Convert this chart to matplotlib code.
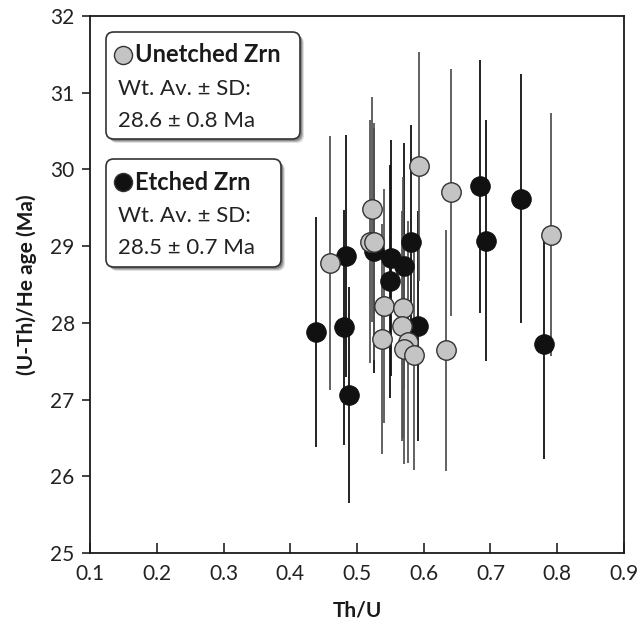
import matplotlib
matplotlib.use("Agg")
import matplotlib.pyplot as plt
from matplotlib.patches import FancyBboxPatch
from matplotlib.lines import Line2D

plt.rcParams['font.family'] = ['Lato', 'DejaVu Sans']

# data
unetched_thu = [0.460, 0.519, 0.526, 0.523, 0.540, 0.569, 0.568, 0.538, 0.577, 0.571, 0.586, 0.593, 0.641, 0.633, 0.790]
unetched_age = [28.78, 29.06, 29.06, 29.48, 28.22, 28.20, 27.96, 27.79, 27.75, 27.66, 27.58, 30.04, 29.70, 27.64, 29.15]
unetched_err = [1.65, 1.58, 1.55, 1.47, 1.52, 1.70, 1.50, 1.50, 1.58, 1.50, 1.50, 1.49, 1.61, 1.57, 1.58]

etched_thu = [0.439, 0.481, 0.484, 0.488, 0.526, 0.551, 0.550, 0.571, 0.581, 0.591, 0.685, 0.693, 0.745, 0.780]
etched_age = [27.88, 27.94, 28.87, 27.06, 28.94, 28.85, 28.54, 28.74, 29.05, 27.96, 29.78, 29.07, 29.62, 27.72]
etched_err = [1.50, 1.53, 1.58, 1.41, 1.60, 1.54, 1.52, 1.60, 1.53, 1.50, 1.65, 1.57, 1.62, 1.50]

x_ticks = [0.1, 0.2, 0.3, 0.4, 0.5, 0.6, 0.7, 0.8, 0.9]
y_ticks = [25, 26, 27, 28, 29, 30, 31, 32]

W, H = 642, 634
fig = plt.figure(figsize=(W / 100, H / 100), dpi=100)
ax = fig.add_axes([90 / W, 1 - 553 / H, 534 / W, 537 / H])

gray = '#c4c4c4'

# error bars first, then markers on top
ax.errorbar(etched_thu, etched_age, yerr=etched_err, fmt='none', ecolor='#111111', elinewidth=1.3, capsize=0, zorder=1)
ax.errorbar(unetched_thu, unetched_age, yerr=unetched_err, fmt='none', ecolor='#555555', elinewidth=1.3, capsize=0, zorder=1)
ax.plot(etched_thu, etched_age, 'o', ms=14, mfc='#111111', mec='#111111', mew=0.8, zorder=3)
ax.plot(unetched_thu, unetched_age, 'o', ms=14, mfc=gray, mec='#333333', mew=1.0, zorder=4)

ax.set_xlim(0.1, 0.9)
ax.set_ylim(25, 32)
ax.set_xticks(x_ticks)
ax.set_yticks(y_ticks)
ax.set_xticklabels([f'{t:.1f}' for t in x_ticks])
ax.tick_params(axis='x', direction='in', length=7, width=1.2, labelsize=15, pad=8, colors='#222222')
ax.tick_params(axis='y', direction='out', length=6, width=1.2, labelsize=15, pad=5, colors='#222222')
for s in ax.spines.values():
    s.set_linewidth(1.3)
    s.set_color('#1a1a1a')

ax.set_xlabel('Th/U', fontsize=15, fontweight='bold', labelpad=12, color='#1a1a1a')
ax.set_ylabel('(U-Th)/He age (Ma)', fontsize=15, fontweight='bold', labelpad=10, color='#1a1a1a')


def px(x, y):
    return x / W, 1 - y / H


def legend_box(x0, y0, x1, y1, lines, face):
    for dx, dy, a in [(4, 4, 0.12), (3, 3, 0.18), (2, 2, 0.25)]:
        sh = FancyBboxPatch(px(x0 + dx, y1 + dy), (x1 - x0) / W, (y1 - y0) / H,
                            boxstyle='round,pad=0,rounding_size=0.012', transform=fig.transFigure,
                            fc='#000000', ec='none', alpha=a, zorder=5)
        fig.add_artist(sh)
    box = FancyBboxPatch(px(x0, y1), (x1 - x0) / W, (y1 - y0) / H,
                         boxstyle='round,pad=0,rounding_size=0.012', transform=fig.transFigure,
                         fc='white', ec='#333333', lw=1.2, zorder=6)
    fig.add_artist(box)
    ty = [y0 + 23, y0 + 57, y0 + 89]
    mk = Line2D([(x0 + 17) / W], [1 - ty[0] / H], marker='o', ms=13, mfc=face,
                mec='#333333', mew=1.0, transform=fig.transFigure, zorder=7)
    fig.add_artist(mk)
    fig.text((x0 + 29) / W, 1 - ty[0] / H, lines[0], fontsize=17, fontweight='bold',
             va='center', ha='left', color='#1a1a1a', zorder=7)
    fig.text((x0 + 12) / W, 1 - ty[1] / H, lines[1], fontsize=16,
             va='center', ha='left', color='#222222', zorder=7)
    fig.text((x0 + 12) / W, 1 - ty[2] / H, lines[2], fontsize=16,
             va='center', ha='left', color='#222222', zorder=7)


legend_box(106, 32, 300, 139, ['Unetched Zrn', 'Wt. Av. ± SD:', '28.6 ± 0.8 Ma'], gray)
legend_box(106, 159, 281, 267, ['Etched Zrn', 'Wt. Av. ± SD:', '28.5 ± 0.7 Ma'], '#111111')

fig.savefig('out.png', dpi=100)
